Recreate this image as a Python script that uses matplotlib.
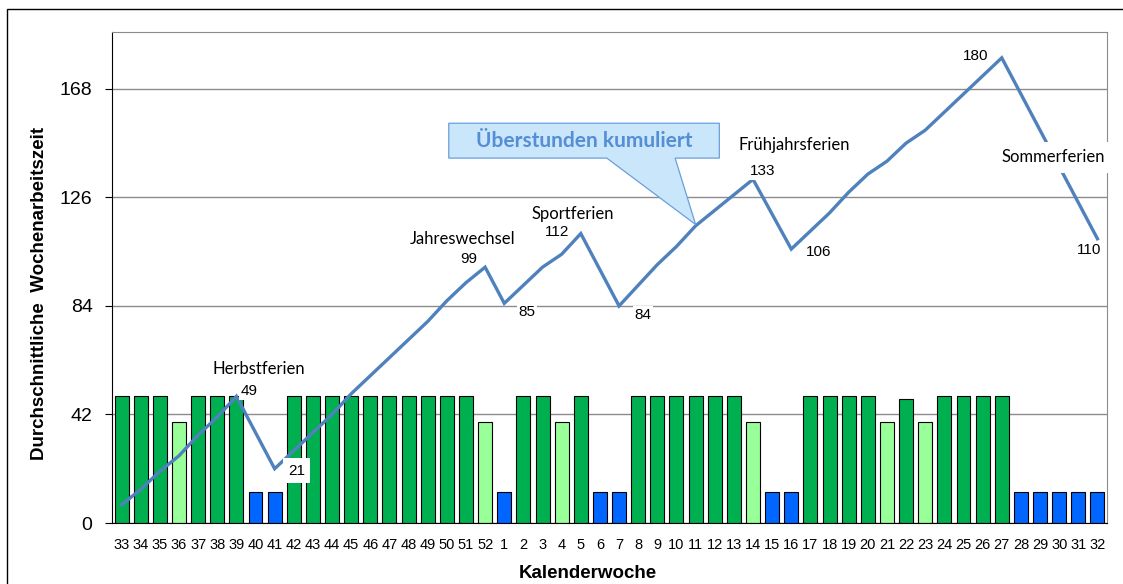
import numpy as np
import matplotlib
matplotlib.use('Agg')
import matplotlib.pyplot as plt
from matplotlib.patches import Polygon, Rectangle

weeks=[33,34,35,36,37,38,39,40,41,42,43,44,45,46,47,48,49,50,51,52,
       1,2,3,4,5,6,7,8,9,10,11,12,13,14,15,16,17,18,19,20,21,22,23,24,25,26,27,28,29,30,31,32]
#durchschnittliche wochenarbeitszeit pro woche
hours=[49,49,49,39,49,49,49,12,12,49,49,49,49,49,49,49,49,49,49,39,
       12,49,49,39,49,12,12,49,49,49,49,49,49,39,12,12,49,49,49,49,39,48,39,49,49,49,49,12,12,12,12,12]
#ueberstunden kumuliert
overtime=[7,13,20,26,34,41,49,35,21,28,35,42,50,57,64,71,78,86,93,99,
          85,92,99,104,112,98,84,92,100,107,115,121,127,133,119.5,106,113,120,128,135,140,147,152,159,166,173,180,166,152,138,124,110]
# which points get a number label, and offset in pixels (dx, dy)
value_labels={39:(13,5),41:(22,-2),52:(-16,8),1:(23,-9),5:(-24,2),7:(24,-9),
              14:(10,8),16:(27,-3),27:(-26,2),32:(-8,-11)}
holidays=['Herbstferien','Jahreswechsel','Sportferien','Frühjahrsferien','Sommerferien']
holiday_pos=[(7.17,59.6),(17.8,109.8),(23.6,119.6),(35.15,146.3),(48.67,141.6)]

dark_green='#00B050'
light_green='#99FF99'
blue='#0066FF'
line_blue='#4F81BD'

def bar_color(h):
    if h>=45:
        return dark_green
    if h>=30:
        return light_green
    return blue

x=np.arange(len(weeks))
fig=plt.figure(figsize=(11.23,5.84),dpi=100)
ax=fig.add_axes([112/1123,1-523/584,995/1123,491/584])

ax.bar(x,hours,width=0.73,color=[bar_color(h) for h in hours],edgecolor='black',linewidth=0.8,zorder=2)
ax.plot(x,overtime,color=line_blue,linewidth=2.4,zorder=3,solid_joinstyle='miter')

ax.set_xlim(-0.5,len(weeks)-0.5)
ax.set_ylim(0,190)
ax.set_yticks([0,42,84,126,168])
ax.yaxis.grid(True,color='#8c8c8c',linewidth=1,zorder=0)
ax.set_axisbelow(True)
ax.set_xticks(x)
ax.set_xticklabels([str(w) for w in weeks],fontsize=10.5,family='Liberation Sans')
ax.tick_params(axis='x',length=0,pad=11)
ax.tick_params(axis='y',length=5,direction='out',pad=9,labelsize=14,color='black')
for lab in ax.get_yticklabels():
    lab.set_family('Liberation Sans')
ax.spines['top'].set_color('#8c8c8c')
ax.spines['right'].set_color('#8c8c8c')
ax.spines['left'].set_color('black')
ax.spines['bottom'].set_color('black')

#value labels on the line
for w,(dx,dy) in value_labels.items():
    i=weeks.index(w)
    v=overtime[i]
    pad=0.35 if w==41 else 0.1
    ax.annotate(str(int(round(v))),xy=(i,v),xytext=(dx*0.72,dy*0.72),textcoords='offset points',
                ha='center',va='center',fontsize=11,family='Liberation Sans',zorder=6,
                bbox=dict(boxstyle='square,pad=%s'%pad,facecolor='white',edgecolor='none'))

for name,(hx,hy) in zip(holidays,holiday_pos):
    pad=0.45 if name=='Sommerferien' else 0.15
    ax.text(hx,hy,name,ha='center',va='center',fontsize=12,family='Lato',zorder=5,
            bbox=dict(boxstyle='square,pad=%s'%pad,facecolor='white',edgecolor='none'))

#callout
callout=[(17.1,141.2),(17.1,154.7),(31.24,154.7),(31.24,141.2),(28.93,141.2),(30.0,115.5),(25.36,141.2)]
ax.add_patch(Polygon(callout,closed=True,facecolor='#C9E6FB',edgecolor='#6A9FDB',linewidth=0.9,zorder=4))
ax.text(24.17,148.0,'Überstunden kumuliert',ha='center',va='center',fontsize=15,fontweight='bold',
        family='Lato',color='#558ED5',zorder=5)

fig.text(40/1123,1-293/584,'Durchschnittliche  Wochenarbeitszeit',rotation=90,ha='center',va='center',
         fontsize=13.5,fontweight='bold',family='Liberation Sans')
fig.text(588/1123,1-573/584,'Kalenderwoche',ha='center',va='center',fontsize=13.5,fontweight='bold',family='Liberation Sans')

fig.patches.append(Rectangle((7/1123,-0.1),1.2,1-9/584+0.1,transform=fig.transFigure,fill=False,edgecolor='black',linewidth=1))

plt.savefig('out.png',dpi=100)
